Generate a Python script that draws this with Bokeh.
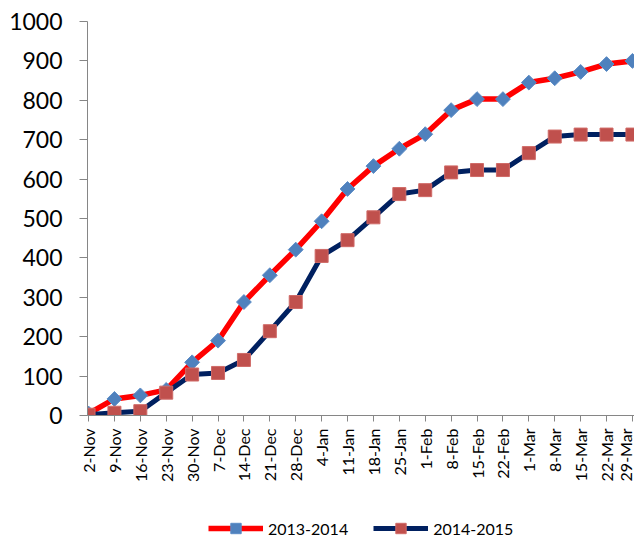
import math
from bokeh.plotting import figure
from bokeh.layouts import column
from bokeh.models import Range1d, FixedTicker, Legend, LegendItem
from bokeh.embed import file_html
from bokeh.resources import INLINE

weeks = ["2-Nov", "9-Nov", "16-Nov", "23-Nov", "30-Nov", "7-Dec", "14-Dec",
         "21-Dec", "28-Dec", "4-Jan", "11-Jan", "18-Jan", "25-Jan", "1-Feb",
         "8-Feb", "15-Feb", "22-Feb", "1-Mar", "8-Mar", "15-Mar", "22-Mar", "29-Mar"]
season_2013_2014 = [5, 42, 51, 65, 135, 190, 288, 356, 421, 493, 575, 633, 677,
                    714, 775, 803, 803, 845, 856, 872, 892, 900]
season_2014_2015 = [2, 7, 11, 58, 104, 108, 141, 214, 288, 405, 445, 503, 562,
                    572, 617, 623, 623, 666, 708, 713, 713, 713]
y_ticks = [0, 100, 200, 300, 400, 500, 600, 700, 800, 900, 1000]
series_names = ["2013-2014", "2014-2015"]

FONT = "Lato"
AXIS_GREY = "#868686"
RED, NAVY, BLUE, BRICK = "#FF0000", "#002060", "#4F81BD", "#C0504D"

x = list(range(len(weeks)))

p = figure(width=634, height=499, output_backend="svg", toolbar_location=None,
           x_range=Range1d(-0.04, 21.08), y_range=Range1d(0, 1000),
           min_border_left=87, min_border_right=0, min_border_top=21,
           min_border_bottom=84)
p.outline_line_color = None
p.xgrid.grid_line_color = None
p.ygrid.grid_line_color = None
p.background_fill_color = "white"
p.border_fill_color = "white"

# axes
p.xaxis.ticker = FixedTicker(ticks=x)
p.xaxis.major_label_overrides = {i: w for i, w in zip(x, weeks)}
p.xaxis.major_label_orientation = math.pi / 2
p.xaxis.major_label_text_font = FONT
p.xaxis.major_label_text_font_size = "16px"
p.xaxis.major_label_text_color = "black"
p.xaxis.major_label_standoff = 7
p.xaxis.axis_line_color = AXIS_GREY
p.xaxis.major_tick_line_color = AXIS_GREY
p.xaxis.major_tick_out = 6
p.xaxis.major_tick_in = 0
p.xaxis.minor_tick_line_color = None

p.yaxis.ticker = FixedTicker(ticks=y_ticks)
p.yaxis.major_label_text_font = FONT
p.yaxis.major_label_text_font_size = "23px"
p.yaxis.major_label_text_color = "black"
p.yaxis.major_label_standoff = 17
p.yaxis.axis_line_color = AXIS_GREY
p.yaxis.major_tick_line_color = AXIS_GREY
p.yaxis.major_tick_out = 8
p.yaxis.major_tick_in = 0
p.yaxis.minor_tick_line_color = None


def draw_series(fig, xs, ys1, ys2):
    a = fig.line(xs, ys1, line_color=RED, line_width=5.5)
    b = fig.scatter(xs, ys1, marker="square", size=10.5, angle=math.pi / 4,
                    fill_color=BLUE, line_color="#5B8CC6", line_width=1)
    c = fig.line(xs, ys2, line_color=NAVY, line_width=5)
    d = fig.scatter(xs, ys2, marker="square", size=13,
                    fill_color=BRICK, line_color="#D06A67", line_width=1)
    return a, b, c, d


draw_series(p, x, season_2013_2014, season_2014_2015)

# legend strip below the chart (its data lies outside its ranges, so only
# the legend swatches show)
lg = figure(width=634, height=40, output_backend="svg", toolbar_location=None,
            x_axis_location=None, y_axis_location=None,
            x_range=Range1d(0, 1), y_range=Range1d(-2000, -1000),
            min_border_left=0, min_border_right=0, min_border_top=0,
            min_border_bottom=0)
lg.outline_line_color = None
lg.xgrid.grid_line_color = None
lg.ygrid.grid_line_color = None
lg.border_fill_color = "white"
lg.background_fill_color = "white"
r1, r2, r3, r4 = draw_series(lg, x, season_2013_2014, season_2014_2015)

legend = Legend(items=[LegendItem(label=series_names[0], renderers=[r1, r2]),
                       LegendItem(label=series_names[1], renderers=[r3, r4])],
                location=(121, -2), orientation="horizontal",
                glyph_width=55, glyph_height=26, label_standoff=5, spacing=25,
                padding=0, margin=0, border_line_color=None,
                background_fill_alpha=0,
                label_text_font=FONT, label_text_font_size="16px",
                label_text_color="black")
lg.add_layout(legend, "center")

layout = column(p, lg, spacing=0)
open("out.html", "w").write(file_html(layout, INLINE))
